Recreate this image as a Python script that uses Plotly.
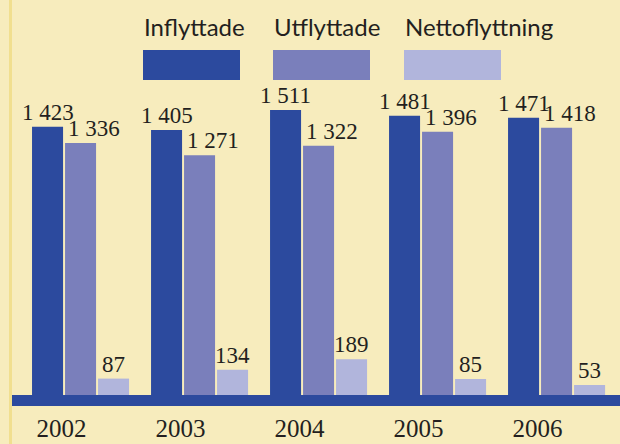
import plotly.graph_objects as go

years = ["2002", "2003", "2004", "2005", "2006"]
inflyttade = [1423, 1405, 1511, 1481, 1471]
utflyttade = [1336, 1271, 1322, 1396, 1418]
netto = [87, 134, 189, 85, 53]

series_names = ["Inflyttade", "Utflyttade", "Nettoflyttning"]
series_values = [inflyttade, utflyttade, netto]
colors = ["#2c4a9e", "#7a7fbb", "#b1b5dc"]
label_xshift = [0, 13, 0]

BG = "#f7ecbd"
TXT = "#231f20"
SERIF = "Liberation Serif, Times New Roman, Tinos, serif"
BARGAP = 0.168
idx = list(range(len(years)))
slot = (1 - BARGAP) / 3

fig = go.Figure()
for name, vals, col in zip(series_names, series_values, colors):
    fig.add_trace(go.Bar(x=idx, y=vals, name=name, marker=dict(color=col, line=dict(width=0)),
                         showlegend=False, hoverinfo="skip"))

# value labels
for k, vals in enumerate(series_values):
    for i, v in zip(idx, vals):
        fig.add_annotation(x=i + (k - 1) * slot, y=v, xref="x", yref="y",
                           text=f"{v:,}".replace(",", " "), showarrow=False,
                           yanchor="bottom", xanchor="center", yshift=0,
                           xshift=label_xshift[k],
                           font=dict(family=SERIF, size=23, color=TXT))

# custom legend: text above rectangles
leg_x0 = [143, 273, 404]
PW = 608.0
PH = 395.0
for name, col, x0 in zip(series_names, colors, leg_x0):
    fig.add_shape(type="rect", xref="paper", yref="paper",
                  x0=(x0 - 12) / PW, x1=(x0 + 97 - 12) / PW,
                  y0=(PH - 80) / PH, y1=(PH - 50) / PH,
                  fillcolor=col, line=dict(width=0), layer="above")
    fig.add_annotation(xref="paper", yref="paper", x=(x0 - 13) / PW, y=(PH - 26.5) / PH,
                       text=name, showarrow=False, xanchor="left", yanchor="middle",
                       font=dict(family="Lato", size=24, color=TXT))

# left stripe
fig.add_shape(type="line", xref="paper", yref="paper", x0=-1.5 / PW, x1=-1.5 / PW,
              y0=-49 / PH, y1=1, line=dict(color="#f1df8f", width=3))

fig.update_layout(
    width=620, height=444,
    margin=dict(l=12, r=0, t=0, b=49),
    paper_bgcolor=BG, plot_bgcolor=BG,
    barmode="group", bargap=BARGAP, bargroupgap=0.06,
    xaxis=dict(range=[-0.576, 4.533], tickvals=[i - 0.16 for i in idx], ticktext=years,
               showgrid=False, zeroline=False, showline=True, linewidth=11, linecolor="#2c4a9e",
               ticks="", tickfont=dict(family=SERIF, size=25, color=TXT),
               ticklabelstandoff=1),
    yaxis=dict(range=[0, 2095], showgrid=False, zeroline=False, showticklabels=False,
               showline=False, ticks=""),
)

fig.write_html(
    "out.html",
    config={"displayModeBar": False},
    post_script="document.body.style.margin='0';document.body.style.overflow='hidden';"
                "document.body.style.background='" + BG + "';",
)
